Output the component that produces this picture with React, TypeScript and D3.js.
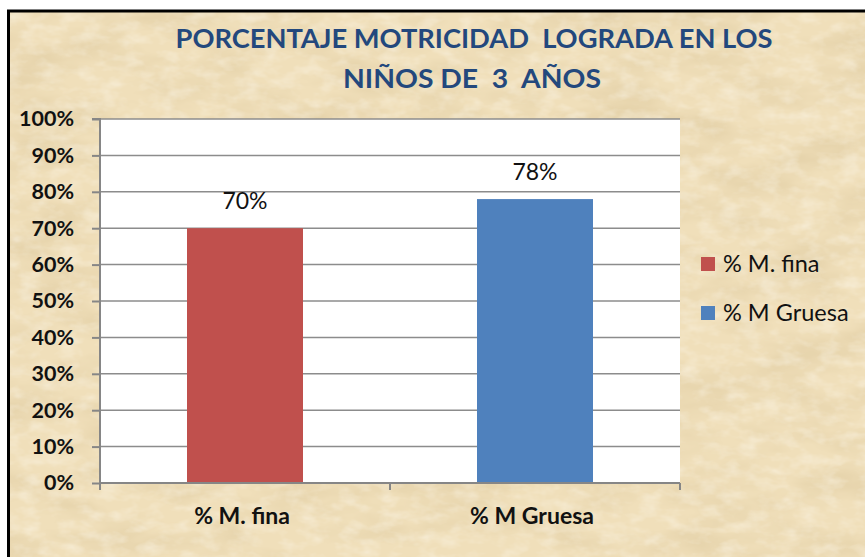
import React, { useRef, useEffect } from 'react';
import * as d3 from 'd3';

// chart data
const categories = ['% M. fina', '% M Gruesa'];
const values = [0.7, 0.78];
const colors = ['#C0504D', '#4F81BD'];
const yTicks = [0, 0.1, 0.2, 0.3, 0.4, 0.5, 0.6, 0.7, 0.8, 0.9, 1];
const titleLines = ['PORCENTAJE MOTRICIDAD  LOGRADA EN LOS', 'NIÑOS DE  3  AÑOS'];

const W = 865;
const H = 557;

const App = () => {
  const svgRef = useRef<SVGSVGElement>(null);

  useEffect(() => {
    d3.select(svgRef.current).selectAll('*').remove();

    const svg = d3.select(svgRef.current)
      .attr('width', W)
      .attr('height', H)
      .style('position', 'absolute')
      .style('left', '0px')
      .style('top', '0px')
      .style('font-family', 'Lato, "Open Sans", sans-serif');

    // parchment texture
    const defs = svg.append('defs');
    const f = defs.append('filter').attr('id', 'parch')
      .attr('x', 0).attr('y', 0).attr('width', 1).attr('height', 1);
    f.append('feTurbulence')
      .attr('type', 'fractalNoise')
      .attr('baseFrequency', '0.012 0.03')
      .attr('numOctaves', 4)
      .attr('seed', 7);
    f.append('feColorMatrix')
      .attr('type', 'matrix')
      .attr('values', '0 0 0 0 0.62  0 0 0 0 0.48  0 0 0 0 0.25  0.7 0 0 0 -0.27');

    const f2 = defs.append('filter').attr('id', 'parch2')
      .attr('x', 0).attr('y', 0).attr('width', 1).attr('height', 1);
    f2.append('feTurbulence')
      .attr('type', 'fractalNoise')
      .attr('baseFrequency', '0.05 0.09')
      .attr('numOctaves', 3)
      .attr('seed', 3);
    f2.append('feColorMatrix')
      .attr('type', 'matrix')
      .attr('values', '0 0 0 0 1  0 0 0 0 0.98  0 0 0 0 0.92  0.8 0 0 0 -0.34');

    svg.append('rect').attr('width', W).attr('height', H).attr('fill', '#fff');
    svg.append('rect').attr('x', 8).attr('y', 11).attr('width', W).attr('height', H)
      .attr('fill', '#F0DFBA');
    svg.append('rect').attr('x', 8).attr('y', 11).attr('width', W).attr('height', H)
      .attr('fill', '#000').attr('filter', 'url(#parch)');
    svg.append('rect').attr('x', 8).attr('y', 11).attr('width', W).attr('height', H)
      .attr('fill', '#000').attr('filter', 'url(#parch2)');
    // frame
    svg.append('path')
      .attr('d', `M8.5,${H} L8.5,11 L${W},11`)
      .attr('fill', 'none')
      .attr('stroke', '#000')
      .attr('stroke-width', 3);

    // title
    svg.selectAll('text.title')
      .data(titleLines)
      .enter()
      .append('text')
      .attr('class', 'title')
      .attr('x', (d, i) => (i === 0 ? 474 : 472))
      .attr('y', (d, i) => (i === 0 ? 48 : 88))
      .attr('text-anchor', 'middle')
      .attr('fill', '#23487D')
      .attr('font-size', 27.5)
      .attr('font-weight', 'bold')
      .attr('textLength', (d, i) => (i === 0 ? 597 : 258))
      .attr('lengthAdjust', 'spacingAndGlyphs')
      .style('white-space', 'pre')
      .text(d => d);

    // scales
    const plot = { left: 100, right: 680, top: 119, bottom: 483 };
    const xScale = d3.scaleBand<string>()
      .domain(categories)
      .range([plot.left, plot.right])
      .paddingInner(0)
      .paddingOuter(0);
    const yScale = d3.scaleLinear()
      .domain([0, 1])
      .range([plot.bottom, plot.top]);

    svg.append('rect')
      .attr('x', plot.left)
      .attr('y', plot.top)
      .attr('width', plot.right - plot.left)
      .attr('height', plot.bottom - plot.top)
      .attr('fill', '#fff');

    // gridlines
    svg.append('g')
      .selectAll('line')
      .data(yTicks)
      .enter()
      .append('line')
      .attr('x1', plot.left)
      .attr('x2', plot.right)
      .attr('y1', d => yScale(d))
      .attr('y2', d => yScale(d))
      .attr('stroke', '#8C8C8C')
      .attr('stroke-width', 1.5);

    // bars
    const barW = xScale.bandwidth() * 0.4;
    svg.append('g')
      .selectAll('rect')
      .data(values)
      .enter()
      .append('rect')
      .attr('x', (d, i) => xScale(categories[i])! + (xScale.bandwidth() - barW) / 2)
      .attr('y', d => yScale(d))
      .attr('width', barW)
      .attr('height', d => yScale(0) - yScale(d))
      .attr('fill', (d, i) => colors[i]);

    // data labels
    svg.append('g')
      .selectAll('text')
      .data(values)
      .enter()
      .append('text')
      .attr('x', (d, i) => xScale(categories[i])! + xScale.bandwidth() / 2)
      .attr('y', d => yScale(d) - 19)
      .attr('text-anchor', 'middle')
      .attr('font-size', 23)
      .attr('fill', '#111')
      .text(d => d3.format('.0%')(d));

    // y axis
    const yAxis = d3.axisLeft(yScale)
      .tickValues(yTicks)
      .tickFormat(d3.format('.0%'))
      .tickSize(8)
      .tickPadding(18);
    const yg = svg.append('g')
      .attr('transform', `translate(${plot.left},0)`)
      .call(yAxis);
    yg.select('.domain').attr('stroke', '#868686').attr('stroke-width', 2)
      .attr('d', `M-8,${plot.top}H0V${plot.bottom + 7}`);
    yg.selectAll('.tick line').attr('stroke', '#868686').attr('stroke-width', 2);
    yg.selectAll('.tick text')
      .attr('font-size', 21.5)
      .attr('font-weight', 'bold')
      .attr('fill', '#111')
      .attr('font-family', 'Lato, sans-serif');

    // x axis
    const xg = svg.append('g')
      .attr('transform', `translate(0,${plot.bottom})`);
    xg.append('line')
      .attr('x1', plot.left)
      .attr('x2', plot.right)
      .attr('stroke', '#868686')
      .attr('stroke-width', 2);
    const edges = [plot.left, ...categories.map(c => xScale(c)! + xScale.bandwidth())];
    xg.selectAll('line.tk')
      .data(edges)
      .enter()
      .append('line')
      .attr('class', 'tk')
      .attr('x1', d => d)
      .attr('x2', d => d)
      .attr('y1', 0)
      .attr('y2', 7)
      .attr('stroke', '#868686')
      .attr('stroke-width', 2);
    xg.selectAll('text')
      .data(categories)
      .enter()
      .append('text')
      .attr('x', d => xScale(d)! + xScale.bandwidth() / 2 - 3)
      .attr('y', 41)
      .attr('text-anchor', 'middle')
      .attr('font-size', 23)
      .attr('font-weight', 'bold')
      .attr('fill', '#111')
      .text(d => d);

    // legend
    const lg = svg.append('g').attr('transform', 'translate(701,257)');
    const items = lg.selectAll('g')
      .data(categories)
      .enter()
      .append('g')
      .attr('transform', (d, i) => `translate(0,${i * 49})`);
    items.append('rect')
      .attr('width', 14)
      .attr('height', 14)
      .attr('fill', (d, i) => colors[i]);
    items.append('text')
      .attr('x', 22)
      .attr('y', 15)
      .attr('font-size', 23.5)
      .attr('fill', '#111')
      .text(d => d);
  }, []);

  return <svg ref={svgRef}></svg>;
};

export default App;
